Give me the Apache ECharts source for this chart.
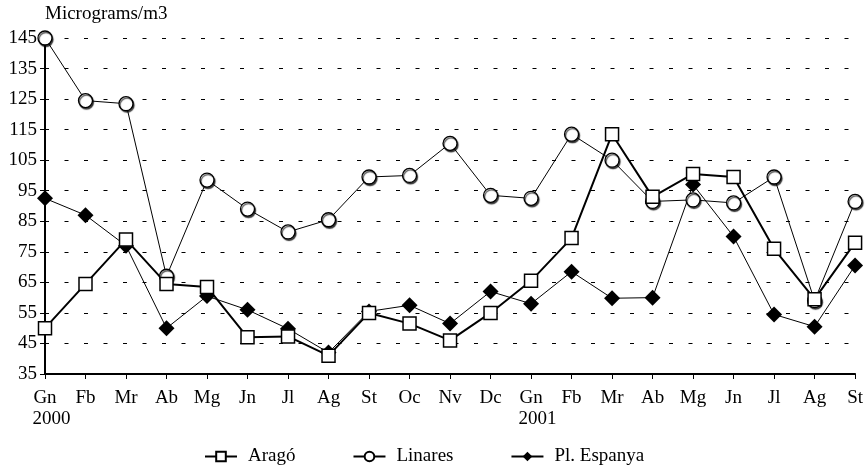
<!DOCTYPE html>
<html>
<head>
<meta charset="utf-8">
<script src="https://cdn.jsdelivr.net/npm/echarts@6/dist/echarts.min.js"></script>
<style>html,body{margin:0;padding:0;background:#fff}#c{width:866px;height:468px}</style>
</head>
<body>
<div id="c"></div>
<script>
var months = ['Gn','Fb','Mr','Ab','Mg','Jn','Jl','Ag','St','Oc','Nv','Dc','Gn','Fb','Mr','Ab','Mg','Jn','Jl','Ag','St'];
var years = ['2000','','','','','','','','','','','','2001','','','','','','','',''];
var arago = [50,64.5,79,64.5,63.5,47,47.3,41,55,51.5,46,55,65.5,79.5,113.5,93,100.5,99.5,76,59.5,78];
var linares = [145,124.5,123.5,67,98.5,89,81.5,85.5,99.5,100,110.5,93.5,92.5,113.5,105,91.5,92,91,99.5,59,91.5];
var espanya = [92.5,87,77,50,60.5,56,49.8,42,55.5,57.5,51.5,62,58,68.5,59.8,60,97,80,54.5,50.5,70.5];
var yTicks = {min:35, max:145, interval:10};

var font = '"Liberation Serif", "Times New Roman", serif';
var FS = 19;
var chart = echarts.init(document.getElementById('c'));
chart.setOption({
  animation:false,
  backgroundColor:'#fff',
  textStyle:{fontFamily:font, color:'#000'},
  grid:{left:45, right:8, top:38, bottom:94},
  legend:{
    bottom:-3, left:199, itemGap:57, itemWidth:32, itemHeight:12,
    formatter:'{s|}{name}',
    textStyle:{fontFamily:font, fontSize:FS, color:'#000', rich:{s:{width:6}}},
    data:['Aragó','Linares','Pl. Espanya']
  },
  xAxis:[{
    type:'category', data:months, boundaryGap:false,
    axisLine:{lineStyle:{color:'#000', width:2}},
    axisTick:{lineStyle:{color:'#000'}, length:5, alignWithLabel:true},
    axisLabel:{fontFamily:font, fontSize:FS, color:'#000', margin:15, interval:0}
  },{
    type:'category', data:years, boundaryGap:false, position:'bottom', offset:21,
    axisLine:{show:false}, axisTick:{show:false},
    axisLabel:{fontFamily:font, fontSize:FS, color:'#000', margin:15, interval:0, padding:[0,0,0,13]}
  }],
  yAxis:{
    type:'value', min:yTicks.min, max:yTicks.max, interval:yTicks.interval,
    name:'Micrograms/m3', nameLocation:'end', nameGap:14,
    nameTextStyle:{fontFamily:font, fontSize:FS, color:'#000', align:'left'},
    axisLine:{show:true, lineStyle:{color:'#000', width:2}},
    axisTick:{show:true, length:5, lineStyle:{color:'#000'}},
    axisLabel:{fontFamily:font, fontSize:FS, color:'#000', margin:8},
    splitLine:{show:true, lineStyle:{color:'#000', width:1, type:[4,15.5]}}
  },
  series:[{
    name:'Linares', type:'line', data:linares,
    symbol:'circle', symbolSize:14,
    lineStyle:{color:'#000', width:1},
    itemStyle:{color:'#fff', borderColor:'#000', borderWidth:1.3,
      shadowColor:'rgba(0,0,0,0.7)', shadowOffsetX:1, shadowOffsetY:1.5, shadowBlur:1}
  },{
    name:'Pl. Espanya', type:'line', data:espanya,
    symbol:'diamond', symbolSize:16,
    lineStyle:{color:'#000', width:1},
    itemStyle:{color:'#000', borderColor:'#000', borderWidth:0}
  },{
    name:'Aragó', type:'line', data:arago,
    symbol:'rect', symbolSize:13,
    lineStyle:{color:'#000', width:2},
    itemStyle:{color:'#fff', borderColor:'#000', borderWidth:1.5}
  }]
});
</script>
</body>
</html>
